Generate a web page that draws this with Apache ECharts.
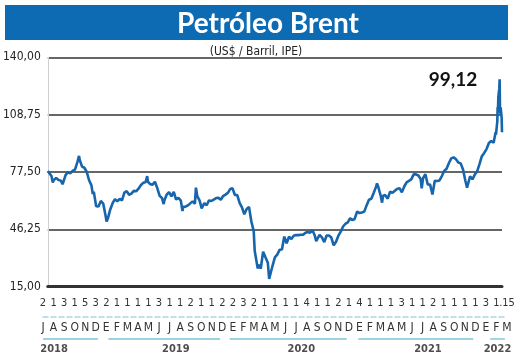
<!DOCTYPE html>
<html><head><meta charset="utf-8">
<script src="https://cdn.jsdelivr.net/npm/echarts@6/dist/echarts.min.js"></script>
<style>html,body{margin:0;padding:0;background:#fff}#c{width:520px;height:361px}</style>
</head><body><div id="c"></div>
<script>
// ---- data ----
const yTickLabels = ['15,00', '46,25', '77,50', '108,75', '140,00'];
const dayLabels = ['2','1','3','1','5','3','2','1','1','1','1','3','1','1','2','1','1','2','2','3','2','1','1','1','1','4','1','1','2','1','4','1','1','1','3','1','1','2','1','1','1','1','3','1','.15'];
const monthLabels = ['J','A','S','O','N','D','E','F','M','A','M','J','J','A','S','O','N','D','E','F','M','A','M','J','J','A','S','O','N','D','E','F','M','A','M','J','J','A','S','O','N','D','E','F','M'];
const years = ['2018', '2019', '2020', '2021', '2022'];
const yearStartMonth = [0, 6.2, 17.7, 29.9, 42.4];
const yearEndMonth = [5.2, 16.8, 28.8, 40.8, 43.8];
const yearLabelMonth = [1.05, 12.6, 24.5, 36.5, 43.1];
const lastLabel = '99,12';
const dates = [
'2018-07-02','2018-07-06','2018-07-13','2018-07-17','2018-07-20','2018-07-27','2018-08-03','2018-08-10','2018-08-15','2018-08-17','2018-08-24','2018-08-31',
'2018-09-07','2018-09-14','2018-09-21','2018-09-28','2018-10-03','2018-10-05','2018-10-12','2018-10-19','2018-10-26','2018-11-02','2018-11-09','2018-11-13',
'2018-11-16','2018-11-23','2018-11-30','2018-12-07','2018-12-14','2018-12-21','2018-12-24','2018-12-28',
'2019-01-04','2019-01-11','2019-01-18','2019-01-25','2019-02-01','2019-02-08','2019-02-15','2019-02-22','2019-03-01','2019-03-08','2019-03-15','2019-03-22',
'2019-03-29','2019-04-05','2019-04-12','2019-04-19','2019-04-24','2019-04-26','2019-05-03','2019-05-10','2019-05-17','2019-05-24','2019-05-31','2019-06-07',
'2019-06-12','2019-06-14','2019-06-21','2019-06-28','2019-07-05','2019-07-12','2019-07-19','2019-07-26','2019-08-02','2019-08-07','2019-08-09','2019-08-16',
'2019-08-23','2019-08-30','2019-09-06','2019-09-13','2019-09-16','2019-09-20','2019-09-27','2019-10-03','2019-10-11','2019-10-18','2019-10-25','2019-11-01',
'2019-11-08','2019-11-15','2019-11-22','2019-11-29','2019-12-06','2019-12-13','2019-12-20','2019-12-27',
'2020-01-03','2020-01-06','2020-01-10','2020-01-17','2020-01-24','2020-01-31','2020-02-07','2020-02-14','2020-02-21','2020-02-28','2020-03-06','2020-03-09',
'2020-03-13','2020-03-18','2020-03-20','2020-03-27','2020-04-01','2020-04-03','2020-04-09','2020-04-17','2020-04-21','2020-04-24','2020-05-01','2020-05-08',
'2020-05-15','2020-05-22','2020-05-29','2020-06-05','2020-06-12','2020-06-19','2020-06-26','2020-07-03','2020-07-10','2020-07-17','2020-07-24','2020-07-31',
'2020-08-07','2020-08-14','2020-08-21','2020-08-28','2020-09-04','2020-09-08','2020-09-11','2020-09-18','2020-09-25','2020-10-02','2020-10-09','2020-10-16',
'2020-10-23','2020-10-30','2020-11-06','2020-11-13','2020-11-20','2020-11-27','2020-12-04','2020-12-11','2020-12-18','2020-12-24','2020-12-31',
'2021-01-08','2021-01-15','2021-01-22','2021-01-29','2021-02-05','2021-02-12','2021-02-19','2021-02-26','2021-03-05','2021-03-08','2021-03-12','2021-03-19',
'2021-03-23','2021-03-26','2021-04-01','2021-04-09','2021-04-16','2021-04-23','2021-04-30','2021-05-07','2021-05-14','2021-05-21','2021-05-28','2021-06-04',
'2021-06-11','2021-06-18','2021-06-25','2021-07-02','2021-07-09','2021-07-16','2021-07-19','2021-07-23','2021-07-30','2021-08-06','2021-08-13','2021-08-20',
'2021-08-27','2021-09-03','2021-09-10','2021-09-17','2021-09-24','2021-10-01','2021-10-08','2021-10-15','2021-10-22','2021-10-29','2021-11-05','2021-11-12',
'2021-11-19','2021-11-26','2021-12-01','2021-12-03','2021-12-10','2021-12-17','2021-12-24','2021-12-31',
'2022-01-07','2022-01-14','2022-01-21','2022-01-28','2022-02-04','2022-02-11','2022-02-18','2022-02-24','2022-02-25','2022-03-01','2022-03-02','2022-03-03',
'2022-03-04','2022-03-07','2022-03-08','2022-03-09','2022-03-10','2022-03-11','2022-03-14','2022-03-15'
];
const prices = [
78.0,77.1,75.3,71.8,73.1,74.3,73.2,72.8,70.8,71.8,75.8,77.4,
76.8,78.1,78.8,82.7,86.3,84.2,80.4,79.8,77.6,73.0,70.2,65.5,
66.8,58.8,58.7,61.7,60.3,53.8,50.5,52.2,
57.1,60.5,62.7,61.6,62.8,62.1,66.3,67.1,65.1,65.7,67.2,67.0,
68.4,70.3,71.6,71.9,75.2,72.2,70.9,70.6,72.2,68.7,64.5,63.3,
60.0,62.0,65.2,66.6,64.2,66.7,62.5,63.5,61.9,56.2,58.5,58.6,
59.3,60.4,61.5,60.2,69.0,64.3,61.9,57.7,60.5,59.4,62.0,61.7,
62.5,63.3,63.4,62.4,64.4,65.2,66.1,68.2,
68.6,68.9,65.0,64.9,60.7,58.2,54.5,57.3,58.5,50.5,45.3,34.4,
33.9,24.9,27.0,24.9,24.7,34.1,31.5,28.1,19.3,21.4,26.4,31.0,
32.5,35.1,35.3,42.3,38.7,42.2,41.0,42.8,43.2,43.1,43.3,43.3,
44.4,44.8,44.4,45.8,42.7,39.8,39.8,43.2,41.9,39.3,42.9,42.9,
41.8,37.5,39.5,42.8,45.0,47.8,49.3,50.0,52.3,51.3,51.8,
56.0,55.1,55.4,55.9,59.3,62.4,62.9,66.1,69.4,71.3,69.2,64.5,
60.8,64.6,64.9,63.0,66.8,66.1,67.3,68.3,68.7,66.4,69.6,71.9,
72.7,73.5,76.2,76.2,75.6,73.6,68.6,74.1,76.3,70.7,70.6,65.2,
72.7,72.6,72.9,75.3,78.1,79.3,82.4,84.9,85.5,84.4,82.7,82.2,
78.9,72.7,68.9,69.9,75.2,73.5,76.1,77.8,
81.8,86.1,87.9,90.0,93.3,94.4,93.5,99.1,97.9,105.0,112.9,110.5,
118.1,123.2,128.0,111.1,109.3,112.7,106.9,99.12
];

// ---- chart ----
const narrow = "'Liberation Sans Narrow', 'DejaVu Sans Condensed', sans-serif";
const chart = echarts.init(document.getElementById('c'), null, {renderer: 'canvas'});
const linePts = dates.map((d, i) => [d, prices[i]]);
const yearSeries = years.map((y, i) => ({
  type: 'line', xAxisIndex: 3, yAxisIndex: 3, silent: true, symbol: 'none',
  lineStyle: {color: '#9cd2e1', width: 1.8},
  data: [[yearStartMonth[i], 0], [yearEndMonth[i], 0]]
}));
chart.setOption({
  animation: false,
  backgroundColor: '#fff',
  graphic: [{type: 'rect', shape: {x: 5, y: 5, width: 503, height: 35}, style: {fill: '#0d6bb4'}, z: -1}],
  title: [
    {text: 'Petróleo Brent', left: 268, top: 10, textAlign: 'center', padding: 0,
     textStyle: {fontFamily: 'Lato', fontWeight: 'bold', fontSize: 28, color: '#fff', lineHeight: 28}},
    {text: '(US$ / Barril, IPE)', left: 256, top: 46, textAlign: 'center', padding: 0,
     textStyle: {fontFamily: narrow, fontWeight: 'normal', fontSize: 12, color: '#222', lineHeight: 12}},
    {text: lastLabel, left: 453, top: 70, textAlign: 'center', padding: 0,
     textStyle: {fontFamily: 'Lato', fontWeight: 'bold', fontSize: 19, color: '#111', lineHeight: 19}}
  ],
  grid: [
    {left: 44, right: 18, top: 57.3, bottom: 74.3},
    {left: 43, right: 13, top: 317, height: 0},
    {left: 43, right: 13, top: 339, height: 0}
  ],
  xAxis: [
    {type: 'time', gridIndex: 0, min: '2018-07-02', max: '2022-03-15',
     axisLine: {show: true, lineStyle: {color: '#333', width: 3}},
     axisTick: {show: false}, axisLabel: {show: false}, splitLine: {show: false}},
    {type: 'category', gridIndex: 1, data: monthLabels, boundaryGap: false, position: 'bottom',
     axisLine: {show: true, lineStyle: {color: '#a6d8e4', width: 1.5, type: [5, 3]}},
     axisTick: {show: false},
     axisLabel: {interval: 0, margin: 5, fontFamily: narrow, fontSize: 12, color: '#333'}},
    {type: 'category', gridIndex: 1, data: dayLabels, boundaryGap: false, position: 'top',
     axisLine: {show: false}, axisTick: {show: false},
     axisLabel: {interval: 0, margin: 8, fontFamily: narrow, fontSize: 11, color: '#333'}},
    {type: 'value', gridIndex: 2, min: 0, max: 44, show: false}
  ],
  yAxis: [
    {type: 'value', gridIndex: 0, min: 15, max: 140, show: false},
    {type: 'value', gridIndex: 0, min: 0, max: 4, interval: 1, position: 'left',
     axisLine: {show: true, lineStyle: {color: '#cfcfcf', width: 1}},
     axisTick: {show: false},
     axisLabel: {margin: 7, fontFamily: narrow, fontSize: 12, color: '#222', formatter: v => yTickLabels[v]},
     splitLine: {show: true, lineStyle: {color: '#333', width: 1.6}}},
    {type: 'value', gridIndex: 1, show: false},
    {type: 'value', gridIndex: 2, min: -1, max: 1, show: false}
  ],
  series: [
    {type: 'line', xAxisIndex: 0, yAxisIndex: 0, data: linePts, symbol: 'none', smooth: false,
     lineStyle: {color: '#1765ac', width: 2.6}, z: 5},
    ...yearSeries,
    {type: 'scatter', xAxisIndex: 3, yAxisIndex: 3, symbolSize: 0, silent: true,
     data: years.map((y, i) => [yearLabelMonth[i], 0]),
     label: {show: true, position: 'bottom', distance: 5, formatter: p => years[p.dataIndex],
       fontFamily: narrow, fontWeight: 'bold', fontSize: 11, color: '#222'}}
  ]
});
</script>
</body></html>
